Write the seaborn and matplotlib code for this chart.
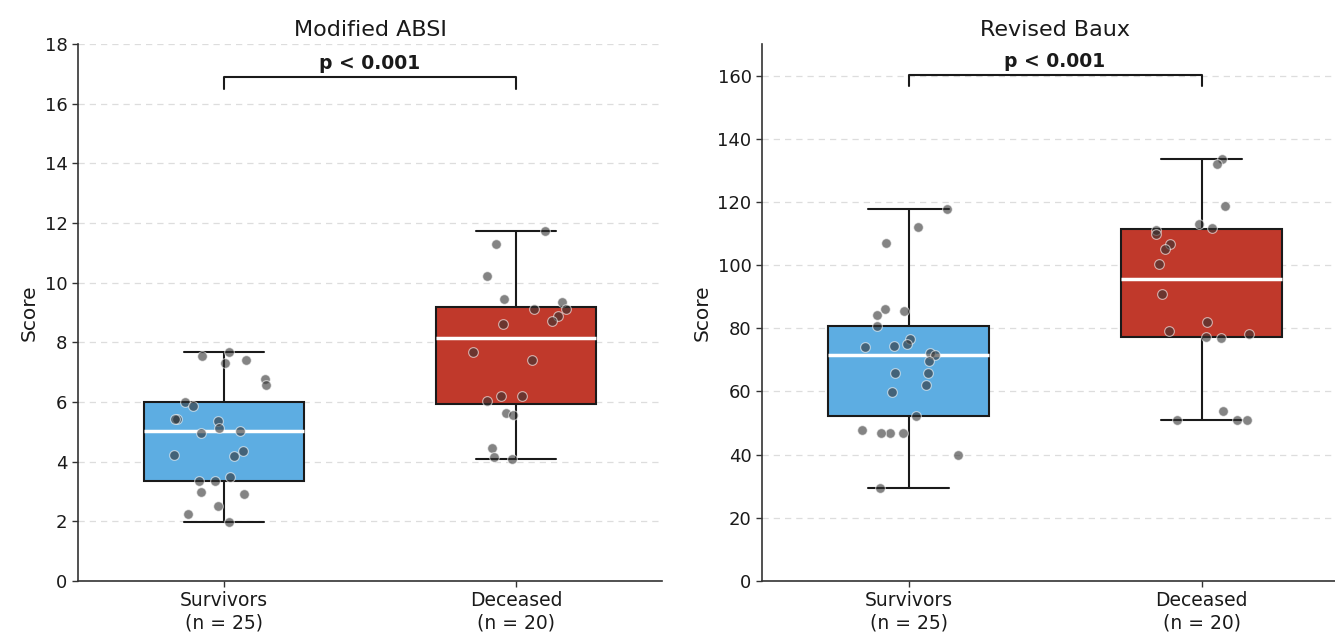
import numpy as np
import pandas as pd
import matplotlib
matplotlib.use("Agg")
import matplotlib.pyplot as plt
import seaborn as sns

# data
groups = ["Survivors", "Deceased"]
group_labels = ["Survivors\n(n = 25)", "Deceased\n(n = 20)"]

absi_survivors = [7.67, 7.41, 7.54, 7.32, 6.76, 6.57, 6.01, 5.88, 5.42, 5.36,
                  5.42, 5.14, 5.04, 4.95, 4.37, 4.20, 4.22, 3.50, 3.36, 3.36,
                  2.98, 2.92, 2.52, 2.24, 1.99]
absi_deceased = [11.74, 11.29, 10.24, 9.45, 9.36, 9.11, 9.11, 8.87, 8.73, 8.62,
                 7.68, 7.41, 6.20, 6.20, 6.03, 5.64, 5.55, 4.46, 4.16, 4.08]

baux_survivors = [117.9, 112.1, 107.0, 86.2, 85.6, 84.1, 80.8, 76.5, 74.2, 75.1,
                  74.4, 72.1, 71.7, 69.5, 65.9, 65.7, 62.0, 59.9, 52.2, 46.8,
                  46.8, 47.8, 46.8, 39.9, 29.6]
baux_deceased = [133.7, 132.1, 118.8, 113.0, 111.6, 111.2, 110.0, 106.6, 105.1, 100.2,
                 91.0, 82.0, 79.3, 78.2, 77.0, 77.2, 53.8, 50.9, 50.9, 50.9]

panel_titles = ["Modified ABSI", "Revised Baux"]
p_text = "p < 0.001"

palette = {"Survivors": "#5DADE2", "Deceased": "#C0392B"}


def make_df(surv, dec):
    return pd.DataFrame({
        "group": ["Survivors"] * len(surv) + ["Deceased"] * len(dec),
        "value": list(surv) + list(dec),
    })


sns.set_style("white")
plt.rcParams["font.family"] = ["DejaVu Sans"]
plt.rcParams["text.color"] = "#1a1a1a"
plt.rcParams["xtick.color"] = "#1a1a1a"
plt.rcParams["ytick.color"] = "#1a1a1a"
plt.rcParams["axes.labelcolor"] = "#1a1a1a"

fig = plt.figure(figsize=(13.35, 6.33), dpi=100)
ax1 = fig.add_axes([0.0584, 0.0821, 0.4375, 0.8484])
ax2 = fig.add_axes([0.5708, 0.0821, 0.4390, 0.8484])

panels = [
    (ax1, make_df(absi_survivors, absi_deceased), (0, 18), np.arange(0, 19, 2), 16.9, 0.4),
    (ax2, make_df(baux_survivors, baux_deceased), (0, 170), np.arange(0, 161, 20), 160.3, 3.6),
]

np.random.seed(3)
for (ax, df, ylim, yticks, bar_y, drop), title in zip(panels, panel_titles):
    ax.yaxis.grid(True, linestyle=(0, (5, 4)), color="#dddddd", linewidth=0.9, zorder=0)
    ax.set_axisbelow(True)
    sns.boxplot(ax=ax, data=df, x="group", y="value", hue="group", order=groups,
                palette=palette, saturation=1, width=0.55, showfliers=False, legend=False,
                linewidth=1.5, linecolor="#1a1a1a",
                medianprops=dict(color="white", linewidth=2.5),
                whiskerprops=dict(color="#1a1a1a", linewidth=1.5),
                capprops=dict(color="#1a1a1a", linewidth=1.5))
    sns.stripplot(ax=ax, data=df, x="group", y="value", order=groups,
                  color="#333333", alpha=0.6, size=7, jitter=0.18,
                  edgecolor="white", linewidth=0.8, zorder=5)
    ax.set_ylim(*ylim)
    ax.set_yticks(yticks)
    ax.set_xlim(-0.5, 1.5)
    ax.set_xticks([0, 1])
    ax.set_xticklabels(group_labels, fontsize=13.5)
    ax.tick_params(axis="y", labelsize=13)
    ax.tick_params(axis="both", which="major", length=4, width=1.0, color="#333333", left=True, bottom=True)
    ax.set_xlabel("")
    ax.set_ylabel("Score", fontsize=14.5)
    ax.set_title(title, fontsize=16, pad=6)

    # significance bracket
    ax.plot([0, 0, 1, 1], [bar_y - drop, bar_y, bar_y, bar_y - drop],
            color="#1a1a1a", linewidth=1.5, clip_on=False)
    ax.text(0.5, bar_y + drop * 0.35, p_text, ha="center", va="bottom",
            fontsize=13.5, fontweight="bold")

    for side in ["top", "right"]:
        ax.spines[side].set_visible(False)
    for side in ["left", "bottom"]:
        ax.spines[side].set_color("#333333")
        ax.spines[side].set_linewidth(1.2)

fig.savefig("out.png", dpi=100, facecolor="#FFFFFF")
